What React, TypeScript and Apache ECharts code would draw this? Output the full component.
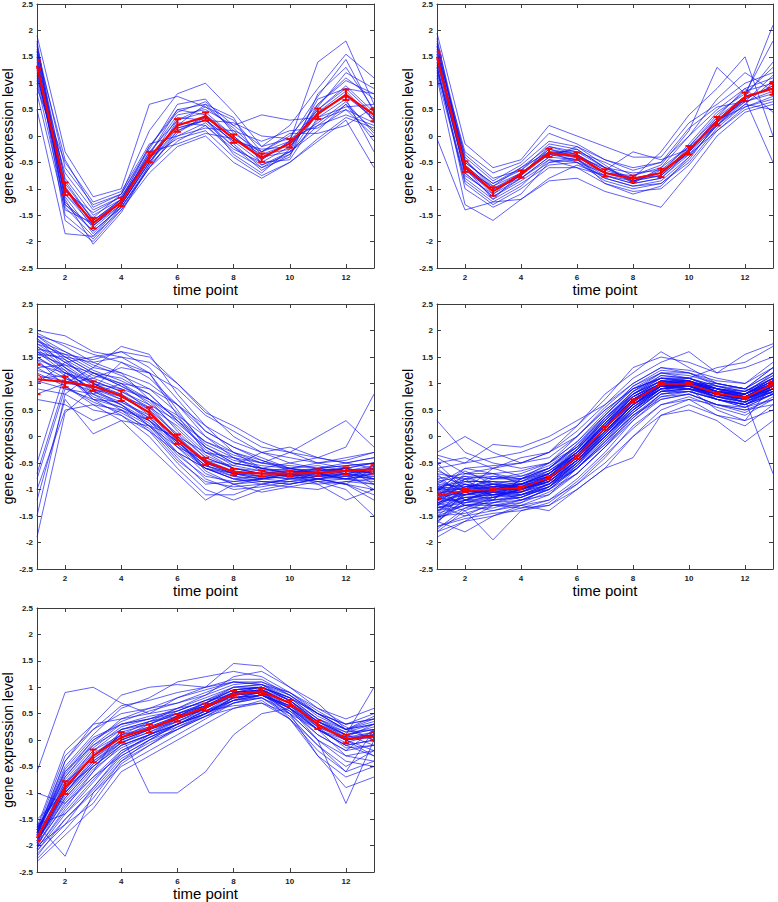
import React, { useEffect, useRef } from "react";
import * as echarts from "echarts";

const TIME_POINTS = [1, 2, 3, 4, 5, 6, 7, 8, 9, 10, 11, 12, 13];
const X_TICKS = [2, 4, 6, 8, 10, 12];

// ---------- Cluster 1 ----------
const C1_MEAN = [1.33, -1.0, -1.65, -1.25, -0.4, 0.2, 0.37, -0.05, -0.41, -0.14, 0.42, 0.78, 0.4];
const C1_ERR = [0.1, 0.12, 0.1, 0.08, 0.1, 0.12, 0.08, 0.08, 0.08, 0.08, 0.1, 0.1, 0.12];
const C1_GENES = [
  [1.9, -0.3, -1.15, -1.0, 0.6, 0.75, 0.55, 0.3, -0.3, -0.1, 1.4, 1.8, 0.6],
  [1.7, -0.6, -1.3, -1.1, 0.1, 0.8, 1.0, 0.45, -0.2, 0.2, 0.9, 1.55, 1.1],
  [1.5, -0.8, -1.5, -1.2, -0.2, 0.5, 0.6, 0.1, -0.4, -0.3, 0.6, 1.1, 0.7],
  [1.2, -1.1, -1.7, -1.3, -0.5, 0.1, 0.3, -0.1, -0.5, -0.2, 0.4, 0.8, 0.3],
  [1.0, -1.3, -1.8, -1.35, -0.6, -0.1, 0.2, -0.3, -0.6, -0.3, 0.2, 0.6, 0.1],
  [0.5, -1.85, -1.9, -1.4, -0.7, -0.2, 0.0, -0.5, -0.8, -0.5, -0.1, 0.3, -0.6],
  [1.4, -0.9, -1.6, -1.25, -0.3, 0.3, 0.45, 0.0, -0.45, -0.1, 0.5, 0.9, 0.4],
  [1.6, -1.0, -1.75, -1.3, -0.45, 0.2, 0.35, -0.05, -0.35, -0.15, 0.45, 0.75, 0.35],
  [1.3, -1.2, -2.05, -1.45, -0.55, 0.0, 0.25, -0.2, -0.55, -0.35, 0.3, 0.5, 0.0],
  [0.8, -1.4, -1.65, -1.2, -0.35, 0.4, 0.5, 0.2, 0.4, 0.3, 0.35, 0.55, 0.6],
  [1.1, -0.7, -1.4, -1.15, -0.4, 0.15, 0.3, 0.25, 0.0, -0.05, 0.2, 0.4, 0.2],
  [1.75, -1.5, -1.95, -1.35, -0.6, 0.05, 0.4, -0.15, -0.6, -0.4, 0.8, 1.3, 0.5],
  [1.35, -1.0, -1.55, -1.1, -0.25, 0.6, 0.7, 0.05, -0.3, 0.0, 0.6, 1.05, 0.8],
  [1.55, -1.15, -1.85, -1.3, -0.5, 0.25, 0.2, -0.25, -0.5, -0.45, 0.35, 0.7, -0.3],
  [1.25, -1.3, -1.7, -1.25, -0.45, 0.35, 0.3, -0.1, -0.25, -0.2, 0.5, 0.95, 0.45],
  [0.9, -0.5, -1.25, -1.05, -0.15, 0.0, 0.15, 0.1, -0.1, 0.1, 0.15, 0.5, 0.25],
  [1.45, -1.6, -2.0, -1.4, -0.6, 0.1, 0.35, -0.35, -0.7, -0.25, 0.55, 1.2, 0.9],
  [1.65, -0.85, -1.6, -1.2, -0.35, 0.5, 0.4, 0.0, -0.45, -0.1, 0.25, 0.65, 0.05],
  [1.15, -1.05, -1.45, -1.15, -0.3, -0.15, 0.05, -0.05, -0.3, 0.05, 0.05, 0.2, 0.55],
  [1.8, -1.25, -1.8, -1.35, -0.55, 0.3, 0.55, 0.15, -0.35, -0.25, 0.7, 0.9, 0.8],
  [1.05, -0.95, -1.7, -1.25, -0.4, 0.2, 0.6, 0.35, -0.55, -0.3, 0.1, 0.6, -0.1],
  [1.5, -1.35, -1.9, -1.3, -0.5, 0.15, 0.3, -0.2, -0.65, -0.35, 0.45, 0.85, 0.3],
  [1.6, -0.45, -1.35, -1.1, -0.2, 0.45, 0.65, 0.2, -0.2, -0.05, 0.75, 1.45, 0.45],
  [1.3, -1.1, -1.6, -1.2, -0.4, -0.05, 0.1, -0.4, -0.75, -0.5, -0.05, 0.35, 0.15],
];

// ---------- Cluster 2 ----------
const C2_MEAN = [1.5, -0.58, -1.05, -0.72, -0.32, -0.38, -0.7, -0.81, -0.7, -0.27, 0.28, 0.74, 0.9];
const C2_ERR = [0.1, 0.1, 0.08, 0.07, 0.08, 0.07, 0.07, 0.06, 0.08, 0.08, 0.08, 0.08, 0.12];
const C2_GENES = [
  [1.95, -0.15, -0.6, -0.45, 0.2, 0.0, -0.2, -0.4, -0.4, 0.25, 0.6, 1.0, 1.2],
  [1.8, -0.4, -0.85, -0.55, -0.1, -0.2, -0.45, -0.6, -0.5, 0.0, 0.5, 0.9, 1.1],
  [1.6, -0.55, -1.0, -0.7, -0.3, -0.35, -0.65, -0.8, -0.7, -0.3, 0.3, 0.75, 0.9],
  [1.45, -0.7, -1.15, -0.8, -0.45, -0.5, -0.8, -0.95, -0.85, -0.4, 0.2, 0.65, 0.8],
  [1.3, -0.9, -1.3, -1.0, -0.6, -0.6, -0.9, -1.05, -1.0, -0.55, 0.1, 0.55, 0.7],
  [1.1, -1.3, -1.6, -1.2, -0.85, -0.8, -1.05, -1.2, -1.35, -0.7, 0.0, 0.45, 0.6],
  [-0.05, -1.4, -1.25, -1.2, -0.8, -0.55, -0.75, -0.9, -0.6, -0.2, 0.2, 0.6, 0.5],
  [1.7, -0.5, -0.9, -0.6, -0.2, -0.3, -0.5, -0.75, -0.55, 0.1, 1.3, 0.8, 1.8],
  [1.5, -0.6, -1.1, -0.7, -0.35, -0.4, -0.7, -0.8, -0.3, 0.4, 0.9, 1.5, 0.0],
  [1.55, -0.65, -1.05, -0.75, -0.25, -0.4, -0.6, -0.85, -0.75, -0.3, 0.35, 0.75, 2.1],
  [1.25, -0.8, -1.2, -0.9, -0.55, -0.5, -0.85, -1.0, -0.9, -0.45, 0.25, 0.7, -0.5],
  [1.4, -0.35, -0.8, -0.65, -0.15, -0.25, -0.6, -0.7, -0.65, -0.2, 0.4, 0.85, 1.0],
  [1.65, -0.75, -1.1, -0.8, -0.4, -0.45, -0.75, -0.9, -0.8, -0.35, 0.25, 0.7, 0.95],
  [1.2, -0.45, -0.95, -0.6, -0.3, -0.3, -0.6, -0.85, -0.7, -0.15, 0.45, 0.8, 1.3],
  [1.85, -0.6, -1.05, -0.75, -0.35, -0.45, -0.7, -0.75, -0.6, 0.0, 0.7, 1.2, 0.85],
  [1.35, -1.0, -1.35, -1.1, -0.5, -0.45, -0.8, -0.95, -0.9, -0.5, 0.15, 0.6, 1.05],
  [1.5, -0.5, -0.9, -0.65, -0.25, -0.35, -0.65, -0.3, -0.45, -0.25, 0.3, 0.55, 0.75],
  [1.75, -0.55, -1.0, -0.8, -0.4, -0.2, -0.55, -0.9, -0.8, -0.3, 0.3, 0.75, 1.4],
  [1.15, -0.85, -1.25, -0.95, -0.45, -0.6, -0.75, -0.85, -0.65, -0.35, 0.1, 0.5, 0.65],
  [1.6, -0.3, -0.7, -0.5, 0.05, -0.15, -0.45, -0.65, -0.5, 0.15, 0.55, 0.65, 0.85],
  [1.4, -0.7, -1.15, -0.85, -0.5, -0.4, -0.9, -1.1, -0.95, -0.4, 0.2, 0.75, 0.9],
  [1.55, -0.6, -1.2, -0.7, -0.3, -0.5, -0.7, -0.8, -0.75, -0.2, 0.35, 0.9, 0.45],
  [1.3, -0.65, -0.95, -0.7, -0.35, -0.25, -0.6, -0.8, -0.7, -0.25, 0.3, 0.65, 1.15],
  [1.7, -0.45, -1.0, -0.75, -0.2, -0.35, -0.7, -0.85, -0.75, -0.3, 0.2, 0.7, 0.95],
];

// ---------- Cluster 3 ----------
const C3_MEAN = [1.08, 1.03, 0.95, 0.77, 0.45, -0.05, -0.47, -0.67, -0.7, -0.7, -0.68, -0.65, -0.62];
const C3_ERR = [0.28, 0.1, 0.09, 0.1, 0.1, 0.09, 0.07, 0.06, 0.06, 0.06, 0.06, 0.07, 0.08];
const C3_GENES = [
  [2.0, 1.9, 1.6, 1.5, 1.4, 1.0, 0.5, 0.0, -0.3, -0.5, -0.6, -0.7, -0.8],
  [1.9, 1.6, 1.3, 1.7, 1.55, 0.8, 0.2, -0.3, -0.6, -0.7, -0.8, -0.7, -0.6],
  [1.8, 1.5, 1.2, 1.0, 0.6, 0.0, -0.5, -0.7, -0.8, -0.75, -0.7, -0.8, -0.9],
  [1.7, 1.4, 1.1, 0.9, 0.5, -0.1, -0.6, -0.8, -0.9, -0.8, -0.75, -0.8, -0.7],
  [1.6, 1.3, 1.0, 0.8, 0.4, -0.2, -0.7, -0.9, -0.85, -0.9, -0.8, -0.9, -1.0],
  [1.5, 1.2, 0.9, 0.7, 0.3, -0.3, -0.8, -1.0, -0.95, -0.85, -0.9, -0.85, -0.8],
  [1.4, 1.1, 0.8, 0.6, 0.2, -0.4, -0.9, -0.85, -0.8, -0.7, -0.6, -0.5, -0.4],
  [1.3, 1.0, 1.1, 1.3, 1.2, 0.5, -0.2, -0.5, -0.6, -0.7, -0.65, -0.6, -0.7],
  [1.95, 1.7, 1.4, 1.2, 0.7, 0.1, -0.4, -0.6, -0.7, -0.65, -0.7, -0.75, -0.65],
  [1.85, 1.3, 0.8, 0.5, 0.1, -0.5, -1.0, -1.2, -1.0, -0.9, -0.8, -0.9, -1.1],
  [1.75, 1.55, 1.45, 1.6, 1.5, 1.0, 0.45, 0.2, -0.1, -0.3, -0.5, -0.6, -0.9],
  [1.65, 1.25, 0.7, 0.4, 0.0, -0.6, -1.1, -1.1, -0.9, -0.8, -0.85, -1.0, -1.5],
  [1.55, 1.35, 1.0, 0.75, 0.55, 0.2, -0.3, -0.5, -0.6, -0.5, -0.4, -0.2, 0.8],
  [1.45, 0.95, 0.6, 0.3, -0.2, -0.7, -1.2, -0.9, -0.8, -0.7, -0.9, -1.2, -1.0],
  [1.25, 1.1, 0.9, 0.75, 0.45, -0.05, -0.5, -0.65, -0.7, -0.75, -0.6, -0.65, -0.55],
  [1.15, 1.05, 0.85, 0.6, 0.3, -0.2, -0.45, -0.55, -0.3, -0.2, -0.4, -0.5, -0.6],
  [1.05, 0.9, 0.7, 0.65, 0.35, -0.1, -0.55, -0.75, -0.8, -0.85, -0.75, -0.7, -0.6],
  [0.9, 0.8, 0.5, 0.4, 0.1, -0.3, -0.6, -0.8, -0.85, -0.9, -0.8, -0.75, -0.8],
  [0.7, 0.6, 0.3, 0.5, 0.2, 0.0, -0.3, -0.4, -0.5, -0.6, -0.7, -0.6, -0.5],
  [-0.5, 1.2, 1.0, 0.9, 0.7, 0.4, 0.0, -0.3, -0.5, -0.55, -0.6, -0.55, -0.5],
  [-0.8, 0.9, 0.8, 1.0, 0.9, 0.6, 0.2, -0.1, -0.3, -0.4, -0.5, -0.4, -0.3],
  [-1.0, 0.5, 0.6, 0.5, 0.3, -0.1, -0.5, -0.7, -0.75, -0.8, -0.7, -0.6, -0.7],
  [-1.2, 0.7, 0.05, 0.3, 0.2, -0.2, -0.6, -0.7, -0.8, -0.7, -0.8, -0.9, -0.6],
  [-1.9, 0.45, 0.9, 1.4, 1.2, 0.9, 0.4, 0.1, -0.2, -0.3, -0.4, -0.5, -0.4],
  [-1.5, 0.8, 1.2, 1.1, 0.8, 0.3, -0.2, -0.5, -0.6, -0.65, -0.7, -0.6, -0.8],
  [-0.7, 1.0, 1.3, 1.2, 1.0, 0.6, 0.1, -0.2, -0.4, -0.6, -0.55, -0.65, -0.7],
  [1.9, 1.5, 1.2, 0.95, 0.65, 0.15, -0.35, -0.6, -0.7, -0.65, -0.6, -0.7, -0.75],
  [1.7, 1.3, 0.95, 0.7, 0.35, -0.15, -0.55, -0.7, -0.75, -0.7, -0.75, -0.65, -0.6],
  [1.6, 1.45, 1.15, 1.0, 0.7, 0.25, -0.2, -0.45, -0.55, -0.6, -0.65, -0.6, -0.5],
  [1.5, 1.15, 0.75, 0.55, 0.25, -0.35, -0.75, -0.85, -0.8, -0.75, -0.7, -0.8, -0.85],
  [1.35, 1.2, 1.05, 0.85, 0.6, 0.3, -0.1, -0.35, -0.5, -0.3, 0.0, 0.3, -0.2],
  [1.2, 0.95, 0.65, 0.45, 0.15, -0.45, -0.85, -0.95, -0.9, -0.95, -1.0, -0.85, -0.9],
  [1.8, 1.6, 1.35, 1.15, 0.9, 0.45, -0.15, -0.4, -0.65, -0.75, -0.85, -0.9, -1.2],
  [1.0, 1.4, 1.5, 1.6, 1.3, 0.7, 0.1, -0.2, -0.45, -0.6, -0.7, -0.8, -0.75],
  [1.45, 1.25, 0.85, 0.65, 0.4, -0.05, -0.65, -0.9, -1.05, -0.95, -0.85, -0.8, -0.55],
  [0.8, 1.0, 0.95, 0.8, 0.5, 0.05, -0.4, -0.6, -0.65, -0.6, -0.5, -0.45, -0.3],
  [1.9, 1.75, 1.55, 1.4, 1.1, 0.6, 0.0, -0.4, -0.6, -0.7, -0.75, -0.7, -0.8],
  [1.75, 1.4, 1.05, 0.85, 0.55, 0.0, -0.45, -0.65, -0.75, -0.8, -0.75, -0.75, -0.7],
  [1.55, 1.5, 1.4, 1.5, 1.2, 0.4, -0.3, -0.6, -0.7, -0.6, -0.7, -0.7, -1.0],
  [1.6, 1.2, 0.9, 0.6, 0.2, -0.3, -0.6, -0.8, -0.75, -0.7, -0.65, -0.6, -0.7],
  [1.3, 1.35, 1.2, 0.95, 0.7, 0.35, -0.1, -0.3, -0.45, -0.65, -0.7, -0.65, -0.6],
  [1.85, 1.45, 1.0, 0.75, 0.45, -0.15, -0.6, -0.75, -0.85, -0.85, -0.8, -0.7, -0.65],
  [1.1, 1.15, 0.7, 0.55, 0.3, -0.1, -0.55, -0.7, -0.7, -0.7, -0.6, -0.55, -0.5],
  [1.65, 1.55, 1.25, 1.05, 0.8, 0.3, -0.25, -0.55, -0.65, -0.75, -0.8, -0.8, -0.7],
];

// ---------- Cluster 4 ----------
const C4_MEAN = [-1.12, -1.02, -1.0, -0.97, -0.78, -0.39, 0.16, 0.67, 0.99, 0.99, 0.81, 0.73, 0.99];
const C4_ERR = [0.04, 0.03, 0.03, 0.03, 0.03, 0.03, 0.03, 0.03, 0.02, 0.02, 0.02, 0.02, 0.03];
const C4_GENES = [
  [-1.5, -1.3, -1.2, -1.1, -1.0, -0.6, -0.1, 0.5, 0.9, 1.0, 0.8, 0.7, 0.9],
  [-0.8, -0.7, -0.8, -0.7, -0.5, -0.1, 0.4, 0.9, 1.1, 1.1, 0.9, 0.8, 1.1],
  [-1.2, -1.1, -1.0, -1.0, -0.8, -0.4, 0.1, 0.6, 1.0, 0.9, 0.85, 0.7, 1.0],
  [-1.0, -0.9, -1.1, -0.9, -0.7, -0.3, 0.2, 0.7, 1.0, 1.0, 0.8, 0.75, 0.95],
  [-1.7, -1.5, -1.4, -1.3, -1.2, -0.8, -0.3, 0.3, 0.7, 0.8, 0.6, 0.5, 0.7],
  [-0.5, -0.4, -0.6, -0.5, -0.3, 0.1, 0.6, 1.0, 1.3, 1.2, 1.0, 0.9, 1.3],
  [-1.3, -1.0, -0.9, -1.1, -0.9, -0.5, 0.0, 0.5, 0.9, 1.0, 0.9, 0.8, 1.0],
  [-0.9, -1.2, -1.2, -0.8, -0.6, -0.2, 0.3, 0.8, 1.05, 1.0, 0.7, 0.6, 0.9],
  [-1.9, -1.6, -1.3, -1.2, -1.0, -0.7, -0.2, 0.4, 0.8, 0.9, 0.7, 0.6, 0.8],
  [0.3, -0.3, -0.5, -0.6, -0.5, -0.2, 0.2, 0.6, 0.9, 0.95, 0.75, 0.8, 1.2],
  [-1.1, -0.95, -0.9, -0.95, -0.8, -0.35, 0.2, 0.75, 1.0, 1.05, 0.85, 0.75, 1.0],
  [-1.4, -1.2, -1.15, -1.1, -0.95, -0.5, 0.05, 0.55, 0.95, 0.9, 0.8, 0.65, 0.9],
  [-0.7, -0.8, -0.75, -0.8, -0.6, -0.25, 0.35, 0.85, 1.2, 1.15, 1.0, 0.9, 1.2],
  [-1.6, -1.8, -1.5, -1.3, -1.1, -0.6, -0.1, 0.4, 0.75, 0.85, 0.7, 0.55, 0.8],
  [-1.05, -0.6, -0.7, -0.9, -0.85, -0.45, 0.1, 0.65, 1.0, 1.0, 0.85, 0.8, 1.05],
  [-1.25, -1.1, -1.05, -1.0, -0.75, -0.3, 0.25, 0.7, 0.95, 1.0, 0.9, 0.7, 1.0],
  [-0.3, 0.0, -0.3, -0.5, -0.4, 0.0, 0.5, 0.9, 1.1, 1.0, 0.8, 0.7, 0.85],
  [-1.8, -1.4, -1.95, -1.4, -1.3, -0.9, -0.4, 0.2, 0.6, 0.7, 0.6, 0.5, 0.6],
  [-1.15, -1.05, -1.0, -0.95, -0.7, -0.35, 0.1, 0.6, 1.0, 0.95, 0.75, 0.7, 0.95],
  [-0.95, -0.85, -0.85, -0.85, -0.65, -0.3, 0.3, 0.8, 1.1, 1.05, 0.9, 0.8, 1.1],
  [-1.35, -1.25, -1.1, -1.1, -0.9, -0.45, 0.0, 0.55, 0.9, 0.95, 0.75, 0.65, 0.85],
  [-1.0, -1.0, -0.95, -1.0, -0.8, -0.4, 0.15, 0.7, 0.95, 1.0, 0.9, 0.8, 1.0],
  [-1.2, -0.9, -1.05, -0.9, -0.75, -0.35, 0.2, 0.65, 1.0, 1.0, 0.8, 0.75, 1.05],
  [-0.6, -1.0, -0.8, -0.75, -0.55, -0.2, 0.4, 0.95, 1.25, 1.2, 0.95, 0.85, 1.15],
  [-1.45, -1.3, -1.25, -1.2, -1.0, -0.55, -0.05, 0.45, 0.85, 0.9, 0.75, 0.65, 0.85],
  [-1.1, -1.1, -1.0, -0.9, -0.75, -0.4, 0.15, 0.7, 1.0, 0.95, 0.8, 0.7, 0.95],
  [-0.85, -0.75, -0.95, -0.9, -0.7, -0.25, 0.3, 0.75, 1.05, 1.05, 0.85, 0.75, 1.0],
  [-1.3, -1.15, -1.1, -1.05, -0.85, -0.45, 0.05, 0.6, 0.95, 0.95, 0.8, 0.7, 0.9],
  [-1.6, -1.25, -1.2, -1.15, -0.95, -0.6, -0.15, 0.45, 0.85, 1.0, 0.8, 0.7, 0.9],
  [-0.75, -0.9, -0.95, -0.85, -0.6, -0.15, 0.35, 0.8, 1.1, 1.1, 0.9, 0.85, 1.1],
  [-1.2, -1.0, -1.1, -1.0, -0.8, -0.45, 0.1, 0.6, 0.95, 0.95, 0.8, 0.75, 0.95],
  [-1.0, -0.8, -0.9, -0.8, -0.6, -0.2, 0.35, 0.8, 1.05, 1.0, 0.85, 0.75, 1.0],
  [-1.5, -1.45, -1.3, -1.25, -1.05, -0.7, -0.2, 0.35, 0.8, 0.85, 0.7, 0.6, 0.8],
  [-0.9, -0.95, -0.9, -0.9, -0.7, -0.3, 0.25, 0.75, 1.0, 1.0, 0.85, 0.8, 1.0],
  [-1.25, -1.15, -1.15, -1.0, -0.85, -0.4, 0.1, 0.65, 0.95, 0.95, 0.8, 0.7, 1.0],
  [-1.05, -1.05, -0.95, -0.95, -0.75, -0.4, 0.15, 0.7, 1.0, 1.0, 0.85, 0.75, 1.0],
  [-1.35, -1.2, -1.05, -1.05, -0.8, -0.35, 0.2, 0.7, 1.0, 1.0, 1.0, 0.9, 0.8],
  [-1.1, -0.9, -1.0, -1.0, -0.8, -0.4, 0.1, 0.6, 0.9, 0.9, 0.5, 0.3, 1.0],
  [-0.85, -1.0, -1.05, -1.05, -0.85, -0.45, 0.15, 0.65, 1.0, 1.1, 1.3, 1.4, 1.7],
  [-1.4, -1.1, -1.0, -1.05, -0.8, -0.4, 0.1, 0.6, 1.0, 1.0, 0.8, 0.7, -0.7],
  [-1.15, -0.95, -1.0, -1.0, -0.75, -0.35, 0.25, 0.75, 1.0, 0.95, 0.8, 0.7, 0.95],
  [-1.25, -1.05, -1.05, -0.95, -0.8, -0.35, 0.15, 0.65, 1.0, 1.0, 0.8, 0.75, 1.0],
  [-1.0, -0.75, -0.8, -0.8, -0.65, -0.3, 0.2, 0.75, 1.05, 1.05, 0.9, 0.8, 1.05],
  [-1.55, -1.35, -1.35, -1.2, -1.0, -0.6, -0.05, 0.5, 0.85, 0.9, 0.75, 0.6, 0.85],
  [-1.2, -1.0, -0.95, -0.95, -0.75, -0.3, 0.2, 0.7, 1.0, 1.05, 0.85, 0.75, 1.0],
  [-0.95, -1.1, -1.0, -0.9, -0.7, -0.3, 0.2, 0.7, 0.95, 0.95, 0.8, 0.7, 0.95],
  [-1.3, -1.05, -0.9, -0.95, -0.8, -0.4, 0.15, 0.7, 1.0, 0.95, 0.8, 0.75, 1.0],
  [-1.0, -1.1, -1.1, -1.0, -0.85, -0.45, 0.05, 0.6, 0.95, 0.95, 0.8, 0.7, 0.95],
  [-1.1, -0.85, -0.85, -0.9, -0.7, -0.3, 0.25, 0.75, 1.05, 1.0, 0.85, 0.8, 1.05],
  [-1.35, -1.15, -1.1, -1.05, -0.9, -0.45, 0.05, 0.6, 0.95, 0.95, 0.8, 0.7, 0.95],
  [-0.5, -1.0, -0.6, -0.4, -0.3, 0.2, 0.8, 1.2, 1.6, 1.3, 1.0, 0.9, 1.3],
  [-1.6, -1.2, -1.3, -1.3, -1.4, -1.0, -0.6, 0.0, 0.5, 0.7, 0.4, 0.2, 0.6],
  [-0.35, -0.5, -0.15, -0.2, 0.0, 0.3, 0.6, 1.1, 1.4, 1.6, 1.2, 1.55, 1.75],
  [-1.8, -1.6, -1.5, -1.35, -1.3, -1.0, -0.6, -0.4, 0.4, 0.6, 0.4, 0.3, 0.5],
  [-0.6, -0.5, -0.4, -0.3, -0.1, 0.2, 0.7, 1.3, 1.5, 1.4, 1.2, 1.3, 1.5],
  [-1.4, -1.3, -1.3, -1.35, -1.2, -0.9, -0.5, 0.0, 0.4, 0.5, 0.3, -0.1, 0.3],
  [-0.9, -0.6, -0.55, -0.5, -0.3, 0.0, 0.55, 1.0, 1.3, 1.25, 1.1, 1.0, 1.4],
  [-1.7, -1.55, -1.45, -1.4, -1.25, -0.85, -0.35, 0.15, 0.6, 0.75, 0.55, 0.4, 0.7],
  [-1.25, -1.4, -1.2, -0.8, -0.5, 0.0, 0.5, 0.9, 1.2, 1.1, 0.9, 0.8, 1.1],
  [-0.4, -0.7, -0.7, -0.65, -0.5, -0.1, 0.45, 0.95, 1.2, 1.2, 1.05, 1.0, 1.3],
  [-1.55, -1.2, -1.0, -1.2, -1.1, -0.7, -0.2, 0.3, 0.75, 0.8, 0.6, 0.55, 0.7],
  [-1.0, -1.3, -1.4, -1.25, -0.95, -0.5, 0.0, 0.5, 0.85, 0.9, 0.8, 0.65, 0.85],
  [-1.3, -0.8, -0.7, -0.8, -0.7, -0.3, 0.25, 0.8, 1.15, 1.1, 0.95, 0.9, 1.2],
  [-0.7, -1.2, -1.0, -0.9, -0.9, -0.5, 0.1, 0.6, 0.9, 1.0, 0.9, 0.6, 0.8],
  [-1.65, -1.0, -1.1, -1.15, -0.9, -0.6, -0.1, 0.4, 0.7, 0.8, 0.6, 0.45, 0.75],
  [-1.15, -1.25, -1.15, -1.0, -0.7, -0.25, 0.35, 0.85, 1.15, 1.1, 0.95, 0.85, 1.15],
  [-1.45, -0.95, -0.85, -1.0, -0.85, -0.45, 0.05, 0.55, 0.9, 0.95, 0.7, 0.6, 0.9],
  [-0.8, -1.05, -1.2, -1.15, -0.95, -0.55, 0.05, 0.6, 0.95, 0.9, 0.75, 0.65, 0.9],
  [-1.05, -1.3, -1.25, -1.1, -0.9, -0.5, 0.0, 0.45, 0.85, 0.85, 0.7, 0.6, 0.85],
  [-1.2, -0.7, -0.6, -0.75, -0.6, -0.15, 0.4, 0.9, 1.1, 1.05, 0.9, 0.85, 1.1],
  [-1.5, -1.1, -0.95, -0.9, -0.65, -0.25, 0.3, 0.85, 1.1, 1.05, 0.85, 0.8, 1.05],
  [-0.65, -0.85, -1.0, -1.0, -0.85, -0.5, 0.0, 0.55, 0.9, 0.95, 0.85, 0.75, 0.9],
  [-1.75, -1.35, -1.15, -1.05, -0.9, -0.55, 0.0, 0.5, 0.9, 0.9, 0.75, 0.65, 0.95],
  [-1.0, -0.65, -0.9, -1.0, -0.75, -0.35, 0.15, 0.7, 1.0, 1.0, 0.95, 0.8, 1.05],
  [-1.3, -1.5, -1.25, -1.15, -0.95, -0.6, -0.15, 0.35, 0.8, 0.85, 0.7, 0.55, 0.8],
  [-0.95, -1.0, -0.75, -0.85, -0.7, -0.35, 0.2, 0.8, 1.05, 1.0, 0.8, 0.8, 1.1],
  [-1.2, -1.2, -1.05, -1.1, -0.95, -0.5, 0.0, 0.5, 0.95, 1.0, 0.8, 0.7, 0.9],
  [-1.1, -0.8, -1.15, -1.0, -0.8, -0.4, 0.15, 0.7, 1.0, 1.05, 0.9, 0.75, 1.0],
];

// ---------- Cluster 5 ----------
const C5_MEAN = [-1.85, -0.9, -0.3, 0.05, 0.22, 0.42, 0.62, 0.87, 0.92, 0.7, 0.29, 0.02, 0.07];
const C5_ERR = [0.05, 0.12, 0.12, 0.1, 0.08, 0.07, 0.07, 0.06, 0.06, 0.06, 0.08, 0.08, 0.08];
const C5_GENES = [
  [-1.9, -1.0, -0.4, 0.0, 0.2, 0.4, 0.6, 0.85, 0.9, 0.65, 0.25, 0.0, 0.1],
  [-2.0, -1.2, -0.7, -0.3, 0.0, 0.3, 0.5, 0.75, 0.85, 0.6, 0.2, -0.1, 0.0],
  [-1.8, -0.6, 0.0, 0.3, 0.4, 0.6, 0.8, 1.0, 1.0, 0.8, 0.4, 0.1, 0.2],
  [-1.7, -0.3, 0.2, 0.5, 0.6, 0.7, 0.9, 1.1, 1.1, 0.9, 0.5, 0.2, 0.3],
  [-2.2, -1.5, -1.0, -0.5, -0.2, 0.1, 0.4, 0.7, 0.8, 0.5, 0.0, -0.3, -0.2],
  [-2.3, -1.8, -1.3, -0.6, -0.3, 0.0, 0.3, 0.6, 0.75, 0.4, -0.2, -0.6, -0.4],
  [-0.6, 0.9, 1.0, 0.7, 0.5, 0.6, 0.7, 0.9, 0.95, 0.7, 0.3, 0.0, 0.1],
  [-1.0, -1.2, -0.6, 0.2, 0.3, 0.5, 0.7, 0.95, 1.0, 0.8, 0.5, 0.3, 0.4],
  [-1.6, -2.2, -1.0, -0.4, 0.0, 0.3, 0.5, 0.8, 0.9, 0.6, 0.1, -0.2, 0.2],
  [-1.85, -0.8, -0.2, 0.1, -1.0, -1.0, -0.6, 0.1, 0.5, 0.6, 0.3, 0.0, -0.3],
  [-1.75, -0.5, 0.1, 0.6, 0.8, 1.1, 1.2, 1.3, 1.2, 0.9, 0.6, 0.3, 0.5],
  [-1.9, -1.1, -0.5, -0.1, 0.1, 0.3, 0.55, 0.8, 0.85, 0.6, 0.2, -0.1, 0.0],
  [-1.95, -0.9, -0.3, 0.1, 0.25, 0.45, 0.65, 0.9, 0.95, 0.7, 0.3, 0.05, 0.1],
  [-1.65, -0.2, 0.3, 0.85, 1.0, 1.05, 1.0, 1.1, 1.05, 0.8, 0.5, 0.2, 0.3],
  [-2.1, -1.4, -0.8, -0.2, 0.05, 0.25, 0.45, 0.6, 0.7, 0.4, -0.1, -0.5, -0.2],
  [-1.8, -0.7, -0.1, 0.3, 0.45, 0.55, 0.75, 1.0, 1.05, 0.9, 0.55, 0.25, 0.0],
  [-1.85, -1.0, -0.35, 0.0, 0.2, 0.4, 0.65, 0.9, 1.0, 0.75, 0.3, 0.0, 0.05],
  [-2.05, -1.3, -0.6, -0.1, 0.1, 0.35, 0.6, 0.85, 0.9, 0.5, 0.0, -0.4, -0.5],
  [-1.7, -0.6, -0.1, 0.2, 0.35, 0.6, 0.85, 1.2, 1.3, 1.0, 0.6, 0.4, 0.6],
  [-1.9, -1.05, -0.45, -0.05, 0.15, 0.35, 0.55, 0.75, 0.8, 0.45, -0.1, -0.6, 0.2],
  [-1.75, -0.4, 0.3, 0.4, 0.5, 0.8, 1.0, 1.45, 1.4, 1.0, 0.7, 0.2, 0.0],
  [-2.0, -1.6, -1.2, -0.45, -0.1, 0.2, 0.45, 0.7, 0.85, 0.55, 0.1, -0.2, -0.1],
  [-1.8, -0.85, -0.25, 0.05, 0.25, 0.45, 0.65, 0.85, 0.95, 0.7, 0.25, 0.05, 0.3],
  [-1.6, -1.4, -0.9, -0.3, 0.0, 0.2, 0.5, 0.8, 0.9, 0.4, -0.3, -0.9, -0.7],
  [-1.9, -1.15, -0.55, -0.15, 0.1, 0.4, 0.6, 0.9, 1.0, 0.6, 0.0, -1.2, 0.0],
  [-2.15, -1.6, -0.9, -0.25, 0.1, 0.3, 0.55, 0.75, 0.95, 0.7, 0.35, 0.1, 1.0],
  [-1.85, -0.95, -0.3, 0.15, 0.3, 0.5, 0.7, 0.95, 1.0, 0.75, 0.35, 0.1, 0.25],
  [-1.7, -0.75, -0.15, 0.25, 0.4, 0.55, 0.75, 0.85, 0.9, 0.7, 0.3, 0.1, -0.1],
  [-1.95, -1.25, -0.7, -0.2, 0.05, 0.3, 0.5, 0.7, 0.8, 0.55, 0.2, 0.0, 0.15],
  [-1.75, -0.65, 0.0, 0.35, 0.55, 0.7, 0.85, 1.05, 1.1, 0.85, 0.45, 0.2, 0.35],
  [-2.0, -1.1, -0.5, -0.05, 0.15, 0.4, 0.6, 0.9, 0.95, 0.5, -0.3, -0.7, -0.5],
  [-1.85, -0.9, -0.3, 0.1, 0.35, 0.45, 0.7, 0.95, 1.0, 0.75, 0.4, 0.2, 0.45],
  [-1.5, -1.0, -0.45, 0.0, 0.2, 0.45, 0.55, 0.65, 0.7, 0.5, 0.2, -0.1, -0.3],
  [-2.25, -1.7, -1.1, -0.4, -0.1, 0.25, 0.5, 0.8, 0.85, 0.6, 0.2, -0.05, 0.1],
  [-1.8, -0.55, 0.05, 0.3, 0.4, 0.5, 0.65, 0.8, 0.85, 0.65, 0.35, 0.15, 0.2],
  [-1.9, -0.95, -0.3, 0.1, 0.2, 0.45, 0.7, 1.0, 1.05, 0.85, 0.5, 0.3, 0.4],
  [-1.8, -0.4, 0.2, 0.65, 0.75, 0.9, 1.0, 1.15, 1.15, 0.85, 0.5, 0.2, 0.4],
  [-2.05, -1.35, -0.75, -0.25, 0.05, 0.3, 0.55, 0.85, 0.95, 0.7, 0.3, 0.0, 0.1],
  [-1.7, -0.8, -0.35, 0.05, 0.3, 0.55, 0.75, 0.95, 1.0, 0.8, 0.4, 0.15, 0.3],
  [-1.95, -1.0, -0.4, -0.05, 0.2, 0.35, 0.6, 0.85, 0.9, 0.6, 0.25, -0.15, -0.1],
  [-1.75, -0.7, -0.05, 0.4, 0.6, 0.8, 0.95, 1.1, 1.05, 0.75, 0.35, 0.1, 0.2],
  [-2.1, -1.5, -0.95, -0.35, -0.05, 0.2, 0.45, 0.75, 0.85, 0.65, 0.3, 0.0, -0.2],
  [-1.85, -0.85, -0.2, 0.2, 0.35, 0.5, 0.65, 0.9, 0.95, 0.75, 0.35, 0.05, 0.15],
  [-1.65, -0.9, -0.5, -0.1, 0.1, 0.3, 0.5, 0.75, 0.85, 0.65, 0.2, -0.3, -0.4],
];

const PANELS = [
  { genes: C1_GENES, mean: C1_MEAN, err: C1_ERR, meanWidth: 2.2 },
  { genes: C2_GENES, mean: C2_MEAN, err: C2_ERR, meanWidth: 2.2 },
  { genes: C3_GENES, mean: C3_MEAN, err: C3_ERR, meanWidth: 2.2 },
  { genes: C4_GENES, mean: C4_MEAN, err: C4_ERR, meanWidth: 1.5 },
  { genes: C5_GENES, mean: C5_MEAN, err: C5_ERR, meanWidth: 2.2 },
];

const GRIDS = [
  { left: 37, top: 4, width: 337, height: 264 },
  { left: 437, top: 4, width: 336, height: 264 },
  { left: 37, top: 304, width: 337, height: 265 },
  { left: 437, top: 304, width: 336, height: 265 },
  { left: 37, top: 608, width: 337, height: 266 },
];

const AXIS_COLOR = "#3c3c3c";
const FONT = "Liberation Sans, Arial, sans-serif";
const BLUE = "#1010f0";
const RED = "#ff0000";

function buildOption() {
  const xAxis: any[] = [];
  const yAxis: any[] = [];
  const series: any[] = [];
  GRIDS.forEach((_, i) => {
    const tickStyle = { lineStyle: { color: AXIS_COLOR, width: 1 } };
    xAxis.push({
      type: "value", gridIndex: i, min: 1, max: 13, position: "bottom",
      axisLine: { show: true, onZero: false, lineStyle: { color: AXIS_COLOR, width: 1 } },
      axisTick: { show: true, inside: true, length: 4, customValues: X_TICKS, ...tickStyle },
      axisLabel: { show: true, customValues: X_TICKS, fontSize: 8, fontWeight: "bold", color: "#222", margin: 5, fontFamily: FONT },
      splitLine: { show: false },
      name: "time point", nameLocation: "middle", nameGap: 12,
      nameTextStyle: { fontSize: 15, color: "#000", fontFamily: FONT },
    });
    xAxis.push({
      type: "value", gridIndex: i, min: 1, max: 13, position: "top",
      axisLine: { show: true, onZero: false, lineStyle: { color: AXIS_COLOR, width: 1 } },
      axisTick: { show: true, inside: true, length: 4, customValues: X_TICKS, ...tickStyle },
      axisLabel: { show: false },
      splitLine: { show: false },
    });
    yAxis.push({
      type: "value", gridIndex: i, min: -2.5, max: 2.5, interval: 0.5, position: "left",
      axisLine: { show: true, onZero: false, lineStyle: { color: AXIS_COLOR, width: 1 } },
      axisTick: { show: true, inside: true, length: 4, ...tickStyle },
      axisLabel: { show: true, fontSize: 8, fontWeight: "bold", color: "#222", margin: 4, fontFamily: FONT },
      splitLine: { show: false },
      name: "gene expression level", nameLocation: "middle", nameGap: 20, nameRotate: 90,
      nameTextStyle: { fontSize: 14, color: "#000", fontFamily: FONT },
    });
    yAxis.push({
      type: "value", gridIndex: i, min: -2.5, max: 2.5, interval: 0.5, position: "right",
      axisLine: { show: true, onZero: false, lineStyle: { color: AXIS_COLOR, width: 1 } },
      axisTick: { show: true, inside: true, length: 4, ...tickStyle },
      axisLabel: { show: false },
      splitLine: { show: false },
    });

    const p = PANELS[i];
    p.genes.forEach((g) => {
      series.push({
        type: "line", xAxisIndex: 2 * i, yAxisIndex: 2 * i,
        data: g.map((v, k) => [TIME_POINTS[k], v]),
        showSymbol: false, symbol: "none", silent: true, z: 2,
        lineStyle: { color: BLUE, width: 1, opacity: 0.66 },
        clip: true,
      });
    });
    series.push({
      type: "line", xAxisIndex: 2 * i, yAxisIndex: 2 * i,
      data: p.mean.map((v, k) => [TIME_POINTS[k], v]),
      showSymbol: false, symbol: "none", silent: true, z: 5,
      lineStyle: { color: RED, width: p.meanWidth },
      clip: true,
    });
    const lastIdx = p.mean.length - 1;
    series.push({
      type: "custom", xAxisIndex: 2 * i, yAxisIndex: 2 * i, z: 6, silent: true, clip: true,
      data: p.mean.map((v, k) => [TIME_POINTS[k], v, p.err[k]]),
      encode: { x: 0, y: 1 },
      renderItem: (params: any, api: any) => {
        const x = api.value(0);
        const m = api.value(1);
        const e = api.value(2);
        const top = api.coord([x, m + e]);
        const bot = api.coord([x, m - e]);
        const mid = api.coord([x, m]);
        const cw = 3.5;
        const style = { stroke: RED, lineWidth: 2 };
        const children: any[] = [
          { type: "line", shape: { x1: top[0], y1: top[1], x2: bot[0], y2: bot[1] }, style },
          { type: "line", shape: { x1: top[0] - cw, y1: top[1], x2: top[0] + cw, y2: top[1] }, style },
          { type: "line", shape: { x1: bot[0] - cw, y1: bot[1], x2: bot[0] + cw, y2: bot[1] }, style },
        ];
        if (params.dataIndex === 0 || params.dataIndex === lastIdx) {
          children.push({
            type: "circle", shape: { cx: mid[0], cy: mid[1], r: 4.5 },
            style: { fill: "none", stroke: RED, lineWidth: 1 },
          });
        }
        return { type: "group", children };
      },
    });
  });

  return {
    animation: false,
    backgroundColor: "#ffffff",
    grid: GRIDS.map((g) => ({ ...g, containLabel: false })),
    xAxis,
    yAxis,
    series,
  };
}

export default function App() {
  const ref = useRef<HTMLDivElement>(null);
  useEffect(() => {
    if (!ref.current) return;
    const chart = echarts.init(ref.current, undefined, { renderer: "svg" });
    chart.setOption(buildOption());
    return () => chart.dispose();
  }, []);
  return (
    <div
      ref={ref}
      style={{ position: "absolute", left: 0, top: 0, width: 778, height: 902, background: "#fff" }}
    />
  );
}
